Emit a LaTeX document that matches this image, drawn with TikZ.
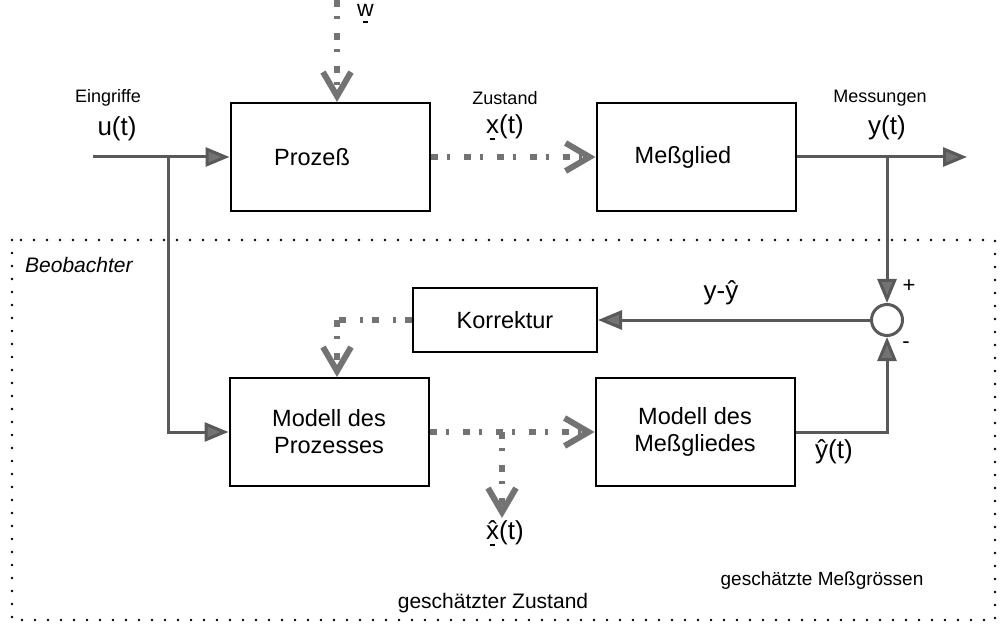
\documentclass[tikz,border=0pt]{standalone}
\usepackage{fontspec}
\setmainfont{Liberation Sans}
\usetikzlibrary{arrows.meta}
% bar under a state symbol
\newcommand\stbar[1]{\oalign{#1\crcr\noalign{\kern1.5pt}\hidewidth\rule{4.5pt}{1.8pt}\hidewidth}}
\begin{document}
\begin{tikzpicture}[x=1pt,y=-1pt,
  blk/.style={draw=black, line width=2pt, minimum width=199pt, minimum height=108pt,
    inner sep=0pt, align=center, font=\fontsize{23.5}{27}\selectfont},
  lbl/.style={inner sep=0pt, font=\fontsize{18}{21}\selectfont},
  sym/.style={inner sep=0pt, font=\fontsize{26}{30}\selectfont},
  sig/.style={draw=black!65, line width=3pt,
    -{Triangle[length=24pt,width=19pt,fill=black!55]}},
  est/.style={draw=black!55, line width=6pt, dash pattern=on 7pt off 9pt on 3pt off 14pt,
    -{Straight Barb[length=24pt,width=28pt,line width=6pt]}},
  estline/.style={draw=black!55, line width=6pt, dash pattern=on 7pt off 9pt on 3pt off 14pt},
  frame/.style={draw=black, line width=2.8pt, line cap=round, dash pattern=on 0pt off 13pt}]
\useasboundingbox (0,0) rectangle (1001,628);

% observer frame
\draw[frame] (12,240) rectangle (995,620);
\node[anchor=west, inner sep=0pt, font=\fontsize{21}{24}\selectfont\itshape] (beob) at (25,265) {Beobachter};

% blocks
\node[blk] (proz) at (330,157) {Prozeß\hspace*{36pt}};
\node[blk] (mess) at (696,157) {Meßglied\hspace*{26pt}};
\node[blk, minimum width=184pt, minimum height=63pt] (korr) at (505,320) {Korrektur};
\node[blk] (mp) at (329,432) {Modell des\\Prozesses};
\node[blk] (mm) at (695,432) {Modell des\\Meßgliedes};
\node[circle, draw=black!65, line width=3pt, minimum size=31pt, inner sep=0pt] (sum) at (887,320) {};

% free ends and branch points
\coordinate (uin) at (93,157);
\coordinate (ub) at (168,157);
\coordinate (win) at (337,0);
\coordinate (yout) at (967,157);
\coordinate (yb) at (887,157);
\coordinate (kc) at (337,320);
\coordinate (xb) at (502,432);
\coordinate (xend) at (502,518);

% solid signal lines
\draw[sig] (uin) -- (proz.west);
\draw[sig] (ub) |- (mp.west);
\draw[sig] (mess.east) -- (yout);
\draw[sig] (yb) -- (sum.north);
\draw[sig] (sum.west) -- (korr.east);
\draw[sig] (mm.east) -| (sum.south);

% state lines
\draw[est] (win) -- (win |- proz.north);
\draw[est] (proz.east) -- (mess.west);
\draw[estline] (korr.west) -- (kc);
\draw[est] (kc) -- (kc |- mp.north);
\draw[est] (mp.east) -- (mm.west);
\draw[est] (xb) -- (xend);

% labels
\node[lbl] (eing) at (108,98) {Eingriffe};
\node[sym] (ut) at (117,129) {u(t)};
\node[sym, font=\fontsize{23}{26}\selectfont, anchor=north west] (w) at (357,4) {\stbar{w}};
\node[lbl] (zust) at (505,98) {Zustand};
\node[sym, anchor=north] (xt) at (505,114) {\stbar{x}(t)};
\node[lbl] (mess-l) at (880,98) {Messungen};
\node[sym] (yt) at (887,128) {y(t)};
\node[sym] (diff) at (721,293) {y-\^{y}};
\node[lbl, font=\fontsize{22}{26}\selectfont] (plus) at (909,286) {+};
\node[lbl, font=\fontsize{22}{26}\selectfont] (minus) at (906,345) {-};
\node[sym] (yht) at (834,452) {\^{y}(t)};
\node[lbl, font=\fontsize{19}{22}\selectfont] (gm) at (822,581) {geschätzte Meßgrössen};
\node[sym, anchor=north] (xht) at (505,520) {\stbar{\^{x}}(t)};
\node[lbl, font=\fontsize{21}{24}\selectfont] (gz) at (493,603) {geschätzter Zustand};
\end{tikzpicture}
\end{document}
